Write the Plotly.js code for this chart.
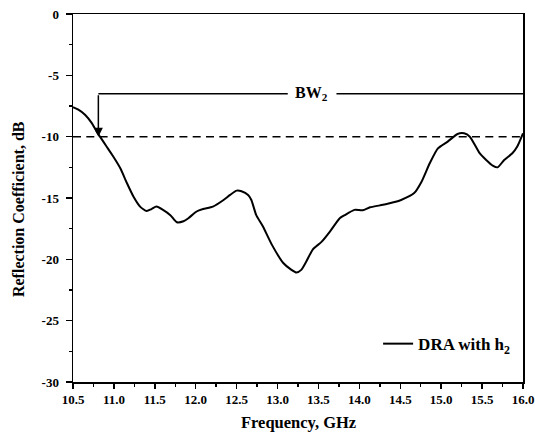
<!DOCTYPE html>
<html>
<head>
<meta charset="utf-8">
<script src="https://cdn.plot.ly/plotly-3.0.1.min.js"></script>
<style>html,body{margin:0;padding:0;background:#fff;}#chart{width:535px;height:439px;}</style>
</head>
<body>
<div id="chart"></div>
<script>
// Frequency (GHz) and reflection coefficient (dB)
var freq = [10.50, 10.57, 10.65, 10.73, 10.79, 10.83, 10.91, 10.99, 11.08, 11.16,
            11.24, 11.32, 11.40, 11.46, 11.52, 11.60, 11.69, 11.77, 11.85, 11.91,
            12.01, 12.09, 12.21, 12.34, 12.42, 12.50, 12.56, 12.64, 12.68, 12.74,
            12.82, 12.93, 13.07, 13.17, 13.23, 13.29, 13.35, 13.43, 13.54, 13.64,
            13.76, 13.82, 13.94, 14.04, 14.13, 14.25, 14.37, 14.51, 14.67, 14.76,
            14.86, 14.96, 15.08, 15.20, 15.28, 15.35, 15.47, 15.55, 15.63, 15.69,
            15.77, 15.87, 15.93, 16.00];
var s11 = [-7.60, -7.82, -8.23, -8.90, -9.59, -10.00, -10.80, -11.60, -12.60, -13.80,
           -14.90, -15.70, -16.06, -15.90, -15.70, -15.97, -16.40, -16.98, -16.90, -16.65,
           -16.10, -15.90, -15.70, -15.16, -14.75, -14.40, -14.45, -14.75, -15.16, -16.40,
           -17.30, -18.80, -20.30, -20.86, -21.08, -20.86, -20.20, -19.20, -18.56, -17.74,
           -16.65, -16.40, -15.97, -16.00, -15.76, -15.60, -15.43, -15.16, -14.60, -13.67,
           -12.17, -10.95, -10.40, -9.78, -9.73, -10.00, -11.35, -11.90, -12.36, -12.50,
           -11.90, -11.35, -10.80, -9.73];
var seriesName = 'DRA with h<sub>2</sub>';

// Reference markers
var thresholdDb = -10;
var bwStart = 10.81;          // left edge of BW2 (arrow)
var bwLevel = -6.5;           // level of the BW2 bracket
var bwLabelX = 13.42;
var bwGapLeft = 13.125, bwGapRight = 13.72;
var xMin = 10.5, xMax = 16.0, yMin = -30, yMax = 0;

// Tick labels
var yTickVals = [-30, -25, -20, -15, -10, -5, 0];
var yTickText = ['-30', '-25', '-20', '-15', '-10', '-5', '0'];
var xTickVals = [10.5, 11.0, 11.5, 12.0, 12.5, 13.0, 13.5, 14.0, 14.5, 15.0, 15.5, 16.0];
var xTickText = ['10.5', '11.0', '11.5', '12.0', '12.5', '13.0', '13.5', '14.0', '14.5', '15.0', '15.5', '16.0'];

var FONT = 'Liberation Serif, Times New Roman, serif';

var trace = {
  x: freq, y: s11, type: 'scatter', mode: 'lines', name: seriesName,
  line: {color: '#000', width: 2, shape: 'spline', smoothing: 0.6}
};

var layout = {
  width: 535, height: 439,
  margin: {l: 73, r: 12, t: 14, b: 57, pad: 0},
  paper_bgcolor: '#fff', plot_bgcolor: '#fff',
  font: {family: FONT, color: '#000', size: 13, weight: 'bold'},
  showlegend: true,
  legend: {x: 0.678, xanchor: 'left', y: 0.103, yanchor: 'middle',
           font: {family: FONT, size: 17, color: '#000', weight: 'bold'},
           bgcolor: 'rgba(0,0,0,0)', borderwidth: 0},
  xaxis: {
    range: [xMin, xMax], tickmode: 'array', tickvals: xTickVals, ticktext: xTickText,
    ticks: 'outside', ticklen: 5, tickwidth: 1.5, tickcolor: '#000',
    minor: {dtick: 0.25, tick0: 10.5, ticks: 'outside', ticklen: 3, tickwidth: 1.5, tickcolor: '#000', showgrid: false},
    showline: true, linewidth: 1.5, linecolor: '#000', mirror: true,
    showgrid: false, zeroline: false,
    tickfont: {family: FONT, size: 13, color: '#000', weight: 'bold'}
  },
  yaxis: {
    range: [yMin, yMax], tickmode: 'array', tickvals: yTickVals, ticktext: yTickText,
    ticks: 'outside', ticklen: 6, tickwidth: 1.5, tickcolor: '#000', ticklabelstandoff: 4,
    minor: {dtick: 2.5, tick0: 0, ticks: 'outside', ticklen: 3, tickwidth: 1.5, tickcolor: '#000', showgrid: false},
    showline: true, linewidth: 1.5, linecolor: '#000', mirror: true,
    showgrid: false, zeroline: false,
    tickfont: {family: FONT, size: 13, color: '#000', weight: 'bold'}
  },
  shapes: [
    {type: 'line', xref: 'x', yref: 'y', x0: xMin, x1: xMax, y0: thresholdDb, y1: thresholdDb,
     line: {color: '#000', width: 1.5, dash: '8px,5.3px'}},
    {type: 'line', xref: 'x', yref: 'y', x0: bwStart, x1: bwGapLeft, y0: bwLevel, y1: bwLevel,
     line: {color: '#000', width: 1.5}},
    {type: 'line', xref: 'x', yref: 'y', x0: bwGapRight, x1: xMax, y0: bwLevel, y1: bwLevel,
     line: {color: '#000', width: 1.5}}
  ],
  annotations: [
    {xref: 'x', yref: 'y', axref: 'x', ayref: 'y', x: bwStart, y: thresholdDb, ax: bwStart, ay: bwLevel,
     text: '', showarrow: true, arrowhead: 2, arrowsize: 1.2, arrowwidth: 1.5, arrowcolor: '#000', standoff: 0},
    {xref: 'x', yref: 'y', x: bwLabelX, y: bwLevel, text: 'BW<sub>2</sub>', showarrow: false,
     xanchor: 'center', yanchor: 'middle', yshift: 0,
     font: {family: FONT, size: 16, color: '#000', weight: 'bold'}},
    {xref: 'paper', yref: 'paper', x: 0.5, y: -0.1114, xanchor: 'center', yanchor: 'middle',
     text: 'Frequency, GHz', showarrow: false,
     font: {family: FONT, size: 16.5, color: '#000', weight: 'bold'}},
    {xref: 'paper', yref: 'paper', x: -0.1222, y: 0.470, xanchor: 'center', yanchor: 'middle',
     text: 'Reflection Coefficient, dB', textangle: -90, showarrow: false,
     font: {family: FONT, size: 16, color: '#000', weight: 'bold'}}
  ]
};

Plotly.newPlot('chart', [trace], layout, {staticPlot: true, displayModeBar: false});
</script>
</body>
</html>
